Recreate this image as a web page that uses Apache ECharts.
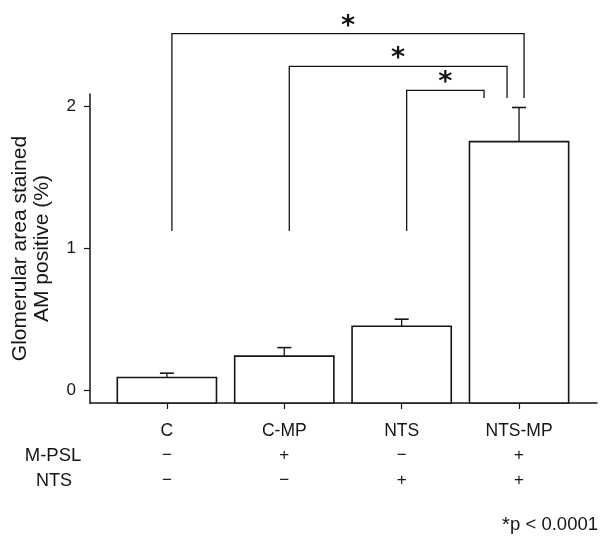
<!DOCTYPE html>
<html>
<head>
<meta charset="utf-8">
<script src="https://cdn.jsdelivr.net/npm/echarts@6/dist/echarts.min.js"></script>
<style>
  html, body { margin: 0; padding: 0; background: #fff; }
  #chart { width: 600px; height: 536px; }
</style>
</head>
<body>
<div id="chart"></div>
<script>
// Groups, mean values (%) and upper SD
const categories = ['C', 'C-MP', 'NTS', 'NTS-MP'];
const meanValues = [0.09, 0.24, 0.45, 1.75];
const sdValues = [0.03, 0.06, 0.05, 0.24];
// Treatment table under the axis
const mpslRow = ['−', '+', '−', '+'];
const ntsRow = ['−', '−', '+', '+'];
const rowNames = ['M-PSL', 'NTS'];
// Axis ticks
const yTickValues = [0, 1, 2];
// Significant pairwise comparisons
const comparisons = [['C', 'NTS-MP'], ['C-MP', 'NTS-MP'], ['NTS', 'NTS-MP']];
const pValueNote = 'p < 0.0001';

const INK = '#151515';
const FONT = 'Liberation Sans, Arial, Helvetica, sans-serif';
const X_MIN = -0.655, X_MAX = 3.664;
const Y_MIN = -0.09, Y_MAX = 2.085;
const BAR_WIDTH = 0.845;           // in category units
const CAP_HALF = 7;                // px
// Bracket layout (value units for heights, px for horizontal nudges)
const BRACKET_TOP = [2.51, 2.28, 2.11];
const BRACKET_RIGHT_DX = [5, -12, -35];
const BRACKET_LEFT_DX = 5;
const BRACKET_LEFT_FOOT = 1.12;
const BRACKET_RIGHT_FOOT = 2.056;
const STAR_RISE = 7;               // px from the bracket line to the text box centre

const chart = echarts.init(document.getElementById('chart'), null, { renderer: 'canvas' });

const barData = categories.map((c, i) => [i, meanValues[i], sdValues[i]]);
const bracketData = comparisons.map((p, k) => [categories.indexOf(p[0]), categories.indexOf(p[1]), k]);

function signAxis(values, margin) {
  return {
    type: 'value', position: 'bottom', min: X_MIN, max: X_MAX,
    axisLine: { show: false }, axisTick: { show: false }, splitLine: { show: false },
    axisLabel: {
      customValues: [0, 1, 2, 3], margin: margin,
      formatter: v => values[Math.round(v)] || '',
      color: INK, fontSize: 17, fontFamily: FONT
    }
  };
}

const option = {
  animation: false,
  backgroundColor: '#fff',
  grid: { left: 90, right: 3, top: 94, bottom: 133, containLabel: false },
  xAxis: [
    {
      type: 'value', position: 'bottom', min: X_MIN, max: X_MAX,
      splitLine: { show: false },
      axisLine: { show: true, onZero: false, lineStyle: { color: INK, width: 1.5 } },
      axisTick: { show: true, customValues: [0, 1, 2, 3], length: 6, inside: false, lineStyle: { color: INK, width: 1.2 } },
      axisLabel: {
        customValues: [0, 1, 2, 3], margin: 19,
        formatter: v => categories[Math.round(v)] || '',
        color: INK, fontSize: 17.5, fontFamily: FONT
      }
    },
    signAxis(mpslRow, 44),
    signAxis(ntsRow, 69)
  ],
  yAxis: {
    type: 'value', min: Y_MIN, max: Y_MAX,
    splitLine: { show: false },
    axisLine: { show: true, onZero: false, lineStyle: { color: INK, width: 1.5 } },
    axisTick: { show: true, customValues: yTickValues, length: 6, inside: false, lineStyle: { color: INK, width: 1.2 } },
    axisLabel: { customValues: yTickValues, margin: 14, color: INK, fontSize: 17, fontFamily: FONT },
    name: 'Glomerular area stained\nAM positive (%)',
    nameLocation: 'middle', nameRotate: 90, nameGap: 37,
    nameTextStyle: { color: INK, fontSize: 21, lineHeight: 22, fontFamily: FONT }
  },
  series: [
    {
      name: 'bars', type: 'custom', xAxisIndex: 0, yAxisIndex: 0,
      data: barData,
      renderItem: (params, api) => {
        const x = api.value(0), m = api.value(1), sd = api.value(2);
        const tl = api.coord([x - BAR_WIDTH / 2, m]);
        const br = api.coord([x + BAR_WIDTH / 2, Y_MIN]);
        const c = api.coord([x, m]);
        const top = api.coord([x, m + sd]);
        return {
          type: 'group',
          children: [
            { type: 'rect', shape: { x: tl[0], y: tl[1], width: br[0] - tl[0], height: br[1] - tl[1] },
              style: { fill: '#fff', stroke: INK, lineWidth: 1.6 } },
            { type: 'line', shape: { x1: c[0], y1: c[1], x2: top[0], y2: top[1] },
              style: { stroke: INK, lineWidth: 1.3 } },
            { type: 'line', shape: { x1: top[0] - CAP_HALF, y1: top[1], x2: top[0] + CAP_HALF, y2: top[1] },
              style: { stroke: INK, lineWidth: 1.6 } }
          ]
        };
      }
    },
    {
      name: 'brackets', type: 'custom', xAxisIndex: 0, yAxisIndex: 0, clip: false,
      data: bracketData,
      renderItem: (params, api) => {
        const a = api.value(0), b = api.value(1), k = api.value(2);
        const lTop = api.coord([a, BRACKET_TOP[k]]);
        const lFoot = api.coord([a, BRACKET_LEFT_FOOT]);
        const rTop = api.coord([b, BRACKET_TOP[k]]);
        const rFoot = api.coord([b, BRACKET_RIGHT_FOOT]);
        const xl = lTop[0] + BRACKET_LEFT_DX;
        const xr = rTop[0] + BRACKET_RIGHT_DX[k];
        return {
          type: 'group',
          children: [
            { type: 'polyline',
              shape: { points: [[xl, lFoot[1]], [xl, lTop[1]], [xr, rTop[1]], [xr, rFoot[1]]] },
              style: { stroke: INK, lineWidth: 1.3, fill: null } },
            { type: 'text', x: (xl + xr) / 2, y: lTop[1] - STAR_RISE,
              style: { text: '*', fill: INK, fontSize: 27, fontWeight: 'bold', fontFamily: 'DejaVu Sans',
                       align: 'center', verticalAlign: 'middle',
                       textAlign: 'center', textVerticalAlign: 'middle' } }
          ]
        };
      }
    }
  ],
  graphic: [
    { type: 'text', x: 53, y: 456,
      style: { text: rowNames[0], fill: INK, fontSize: 18.5, fontFamily: FONT,
               align: 'center', verticalAlign: 'middle', textAlign: 'center', textVerticalAlign: 'middle' } },
    { type: 'text', x: 54, y: 481,
      style: { text: rowNames[1], fill: INK, fontSize: 18, fontFamily: FONT,
               align: 'center', verticalAlign: 'middle', textAlign: 'center', textVerticalAlign: 'middle' } },
    { type: 'text', x: 598, y: 525,
      style: { text: '{s|*}{t|' + pValueNote + '}',
               align: 'right', verticalAlign: 'middle', textAlign: 'right', textVerticalAlign: 'middle',
               rich: {
                 s: { fill: INK, fontSize: 21, fontFamily: FONT },
                 t: { fill: INK, fontSize: 18.5, fontFamily: FONT }
               } } }
  ]
};

chart.setOption(option);
</script>
</body>
</html>
